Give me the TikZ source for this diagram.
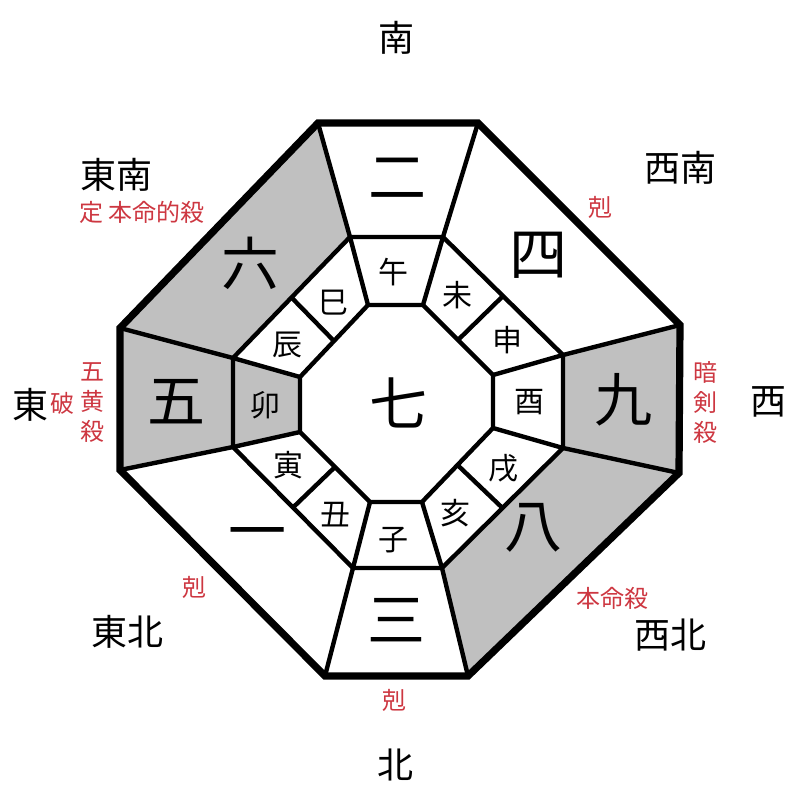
\documentclass[tikz,border=0pt]{standalone}
\usepackage{fontspec}
\setmainfont{Noto Sans CJK JP}
\usetikzlibrary{calc}
\definecolor{cellgray}{RGB}{192,192,192}
\definecolor{warn}{RGB}{205,55,65}

\begin{document}
\begin{tikzpicture}[
  x=0.5pt, y=-0.5pt,
  wall/.style={line width=2.2pt},
  rim/.style={line width=3.6pt},
  star/.style={font=\fontsize{29}{29}\selectfont},
  branch/.style={font=\fontsize{15}{15}\selectfont},
  dir/.style={font=\fontsize{18}{18}\selectfont},
  note/.style={font=\fontsize{12}{15}\selectfont, text=warn, align=center},
]
  \useasboundingbox (0,0) rectangle (800,800);

  % octagon corners, clockwise from top left
  \foreach \n/\p in {1/{318,123},2/{478,123},3/{680,325},4/{679,473},
                     5/{468,676},6/{325,676},7/{120,470},8/{120,328}}
    \coordinate (o\n) at (\p);
  \foreach \n/\p in {1/{350,237},2/{443,237},3/{563,355},4/{563,448},
                     5/{442,568},6/{353,568},7/{233,447},8/{233,358}}
    \coordinate (m\n) at (\p);
  \foreach \n/\p in {1/{368,305},2/{423,305},3/{493,375},4/{493,428},
                     5/{422,502},6/{370,502},7/{300,432},8/{300,377}}
    \coordinate (i\n) at (\p);

  % grey cells
  \fill[cellgray] (o8) -- (o1) -- (m1) -- (m8) -- cycle;
  \fill[cellgray] (o7) -- (o8) -- (m8) -- (m7) -- cycle;
  \fill[cellgray] (o3) -- (o4) -- (m4) -- (m3) -- cycle;
  \fill[cellgray] (o4) -- (o5) -- (m5) -- (m4) -- cycle;
  \fill[cellgray] (m7) -- (m8) -- (i8) -- (i7) -- cycle;

  % walls
  \foreach \k in {1,...,8}
    \draw[wall] (o\k) -- (m\k) -- (i\k);
  \draw[wall] (m1) -- (m2) -- (m3) -- (m4) -- (m5) -- (m6) -- (m7) -- (m8) -- cycle;
  \draw[wall] (i1) -- (i2) -- (i3) -- (i4) -- (i5) -- (i6) -- (i7) -- (i8) -- cycle;
  \foreach \a/\b in {2/3,4/5,6/7,8/1}
    \draw[wall] ($(m\a)!.5!(m\b)$) -- ($(i\a)!.5!(i\b)$);
  \draw[rim] (o1) -- (o2) -- (o3) -- (o4) -- (o5) -- (o6) -- (o7) -- (o8) -- cycle;

  % stars
  \node[star] (s7) at (398,403) {七};
  \node[star] (s2) at (397,178) {二};
  \node[star] (s4) at (538,255) {四};
  \node[star] (s9) at (623,400) {九};
  \node[star] (s8) at (533,528) {八};
  \node[star] (s3) at (396,620) {三};
  \node[star] (s1) at (257,540) {一};
  \node[star] (s5) at (177,402) {五};
  \node[star] (s6) at (250,263) {六};

  % branches
  \node[branch] (b1)  at (394,272) {午};
  \node[branch] (b2)  at (457,295) {未};
  \node[branch] (b3)  at (507,340) {申};
  \node[branch] (b4)  at (529,402) {酉};
  \node[branch] (b5)  at (503,468) {戌};
  \node[branch] (b6)  at (455,513) {亥};
  \node[branch] (b7)  at (393,540) {子};
  \node[branch] (b8)  at (335,515) {丑};
  \node[branch] (b9)  at (288,465) {寅};
  \node[branch] (b10) at (265,405) {卯};
  \node[branch] (b11) at (287,345) {辰};
  \node[branch] (b12) at (333,303) {巳};

  % directions
  \node[dir] (south) at (397,38)  {南};
  \node[dir] (se)    at (117,175) {東南};
  \node[dir] (sw)    at (680,168) {西南};
  \node[dir] (east)  at (30,405)  {東};
  \node[dir] (west)  at (768,402) {西};
  \node[dir] (ne)    at (127,632) {東北};
  \node[dir] (nw)    at (670,635) {西北};
  \node[dir] (north) at (395,765) {北};

  % notes
  \node[note] (n1) at (142,212) {定 本命的殺};
  \node[note] (n2) at (600,207) {剋};
  \node[note] (n3) at (63,403)  {破};
  \node[note] (n4) at (93,403)  {五\\黄\\殺};
  \node[note] (n5) at (705,402) {暗\\剣\\殺};
  \node[note] (n6) at (195,587) {剋};
  \node[note] (n7) at (612,598) {本命殺};
  \node[note] (n8) at (394,700) {剋};
\end{tikzpicture}
\end{document}
